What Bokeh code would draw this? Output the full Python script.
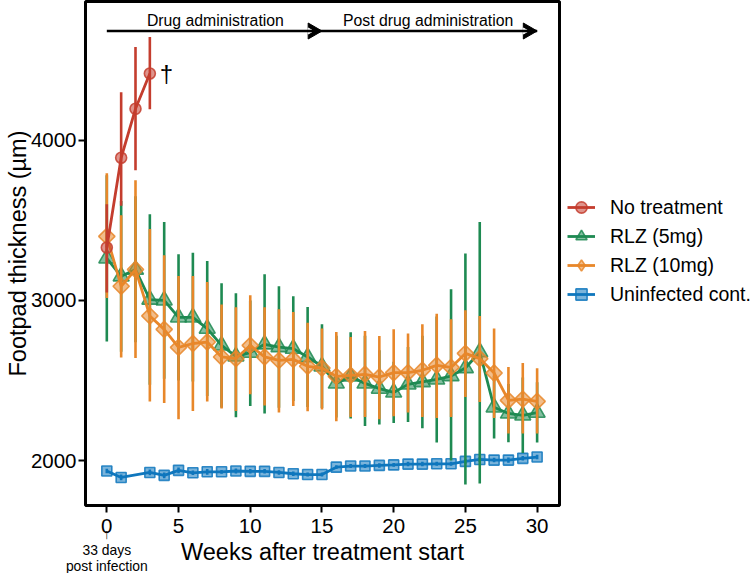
import math
from bokeh.plotting import figure
from bokeh.layouts import row
from bokeh.models import Range1d, Legend, LegendItem, Label, LinearAxis
from bokeh.embed import file_html
from bokeh.resources import INLINE

FONT = "Liberation Sans"
weeks = list(range(31))
red_weeks = [0, 1, 2, 3]
red_mean = [3330, 3890, 4195, 4415]
red_lo = [3050, 3590, 3812, 4193]
red_hi = [3600, 4299, 4580, 4642]

green_mean = [3263,3151,3193,3006,3001,2895,2895,2825,2720,2652,2675,2727,2710,2700,2648,2590,2483,2527,2483,2451,2427,2477,2492,2508,2529,2579,2679,2334,2296,2284,2301]
green_lo = [2745,2680,2740,2474,2512,2502,2495,2405,2333,2272,2342,2296,2331,2374,2336,2330,2270,2265,2217,2227,2236,2242,2203,2115,2003,1853,1859,2139,2116,2050,2115]
green_hi = [3781,3620,3650,3538,3490,3288,3297,3247,3107,3045,3000,3164,3089,3026,2960,2852,2780,2802,2780,2690,2618,2710,2780,2900,3070,3293,3490,2530,2480,2520,2490]

orange_mean = [3400,3089,3193,2904,2820,2708,2732,2741,2648,2638,2720,2648,2627,2633,2590,2579,2527,2533,2540,2523,2550,2550,2565,2596,2583,2670,2638,2548,2377,2385,2371]
orange_lo = [3016,2644,2641,2371,2361,2259,2311,2371,2326,2311,2415,2346,2302,2342,2309,2321,2248,2273,2273,2259,2278,2302,2273,2267,2273,2398,2367,2267,2171,2171,2171]
orange_hi = [3794,3532,3750,3445,3282,3153,3153,3116,2975,2958,3033,2958,2945,2929,2862,2826,2803,2772,2810,2779,2820,2795,2852,2918,2883,2939,2903,2826,2585,2610,2577]

blue_weeks = [0,1,3,4,5,6,7,8,9,10,11,12,13,14,15,16,17,18,19,20,21,22,23,24,25,26,27,28,29,30]
blue_mean = [1937,1897,1928,1910,1941,1926,1932,1932,1937,1935,1935,1928,1920,1915,1915,1961,1968,1968,1972,1975,1980,1980,1982,1982,1997,2009,2005,2005,2016,2024]
blue_err = [14,18,18,18,18,14,18,12,16,14,14,14,14,12,12,12,12,12,14,12,14,14,12,12,14,16,14,16,14,14]

x_ticks = [0, 5, 10, 15, 20, 25, 30]
y_ticks = [2000, 3000, 4000]

arrow_level = 4680
arrow_spans = [(0, 15), (15, 30)]
arrow_head_x = [14.36, 29.36]
arrow_notch_x = [14.16, 29.16]

p = figure(width=561, height=573, output_backend="svg", toolbar_location=None,
           x_range=Range1d(-1.486, 31.56), y_range=Range1d(1722, 4864),
           min_border_left=85, min_border_top=1, min_border_right=2, min_border_bottom=68,
           background_fill_color="white", border_fill_color="white")
p.grid.visible = False
p.outline_line_color = "black"
p.outline_line_width = 3
p.xaxis.ticker = x_ticks
p.yaxis.ticker = y_ticks

def style(ax):
    ax.axis_line_color = None
    ax.major_tick_in = 0
    ax.major_tick_out = 7
    ax.major_tick_line_width = 2
    ax.minor_tick_line_color = None
    ax.major_label_text_font = FONT
    ax.major_label_text_font_size = "20.5px"
    ax.major_label_text_color = "black"
    ax.axis_label_text_font = FONT
    ax.axis_label_text_font_size = "23.5px"
    ax.axis_label_text_font_style = "normal"
    ax.axis_label_text_color = "black"

style(p.xaxis[0])
style(p.yaxis[0])
p.yaxis.axis_label = "Footpad thickness (µm)"
p.xaxis.major_label_standoff = 6
p.yaxis.major_label_standoff = 2
p.yaxis.axis_label_standoff = -3

# Second bottom axis: carries the note under week 0 and the x title
note_axis = LinearAxis(ticker=[0], major_label_overrides={0: "↑\n33 days\npost infection"})
style(note_axis)
note_axis.major_tick_out = 0
note_axis.major_tick_line_color = None
note_axis.major_label_text_font_size = "13.9px"
note_axis.major_label_text_line_height = 1.0
note_axis.major_label_standoff = -10
note_axis.axis_label = "Weeks after treatment start"
note_axis.axis_label_standoff = -38
p.add_layout(note_axis, "below")

def series(x, mean, lo, hi, color, marker, size, angle=0.0):
    p.segment(x, lo, x, hi, line_color=color, line_width=2.6)
    p.line(x, mean, line_color=color, line_width=2.8)
    p.scatter(x, mean, marker=marker, size=size, angle=angle, fill_color=color, fill_alpha=0.55,
              line_color=color, line_alpha=0.85, line_width=1.6)

blue_lo = [m - e for m, e in zip(blue_mean, blue_err)]
blue_hi = [m + e for m, e in zip(blue_mean, blue_err)]
BLUE, GREEN, ORANGE, RED = "#0f77bd", "#1e8a52", "#e8872a", "#c43d2e"
series(blue_weeks, blue_mean, blue_lo, blue_hi, BLUE, "square", 10)
series(weeks, green_mean, green_lo, green_hi, GREEN, "triangle", 16)
series(weeks, orange_mean, orange_lo, orange_hi, ORANGE, "square", 11.5, math.pi / 4)
series(red_weeks, red_mean, red_lo, red_hi, RED, "circle", 11)

# Two long arrows above the data
p.scatter(arrow_head_x, [arrow_level] * 2, marker="triangle", size=16, angle=-math.pi / 2,
          fill_color="black", line_color="black")
p.scatter(arrow_notch_x, [arrow_level] * 2, marker="triangle", size=6, angle=-math.pi / 2,
          fill_color="white", line_color="white")
for x0, x1 in arrow_spans:
    p.line([x0, x1], [arrow_level] * 2, line_color="black", line_width=2.5)

def note(x, y, text, size):
    p.add_layout(Label(x=x, y=y, text=text, text_font=FONT, text_font_size=size, text_color="black",
                       text_align="center", text_baseline="middle"))

note(7.57, 4745, "Drug administration", "15.8px")
note(22.4, 4745, "Post drug administration", "15.8px")
note(4.15, 4415, "†", "24px")

# The legend sits in a narrow companion figure at the right of the plot
side = figure(width=191, height=573, output_backend="svg", toolbar_location=None,
              x_range=Range1d(-100, -99), y_range=Range1d(-100, -99),
              min_border_left=0, min_border_top=0, min_border_right=0, min_border_bottom=0,
              outline_line_color=None, background_fill_color="white", border_fill_color="white")
side.grid.visible = False
side.axis.visible = False

def key(x, mean, color, marker):
    ln = side.line(x[:2], mean[:2], line_color=color, line_width=2.8)
    pt = side.scatter(x[:2], mean[:2], marker=marker, size=11, fill_color=color, fill_alpha=0.55,
                      line_color=color, line_alpha=0.85, line_width=1.6)
    return [ln, pt]

legend = Legend(items=[
    LegendItem(label="No treatment", renderers=key(red_weeks, red_mean, RED, "circle")),
    LegendItem(label="RLZ (5mg)", renderers=key(weeks, green_mean, GREEN, "triangle")),
    LegendItem(label="RLZ (10mg)", renderers=key(weeks, orange_mean, ORANGE, "diamond")),
    LegendItem(label="Uninfected cont.", renderers=key(blue_weeks, blue_mean, BLUE, "square")),
], location=(6, 197), border_line_color=None, background_fill_alpha=0,
    label_text_font=FONT, label_text_font_size="19.5px", label_text_color="black",
    glyph_width=28, glyph_height=28, label_standoff=15, spacing=1, margin=0, padding=5)
side.add_layout(legend)

open("out.html", "w").write(file_html(row(p, side, spacing=0), INLINE))
